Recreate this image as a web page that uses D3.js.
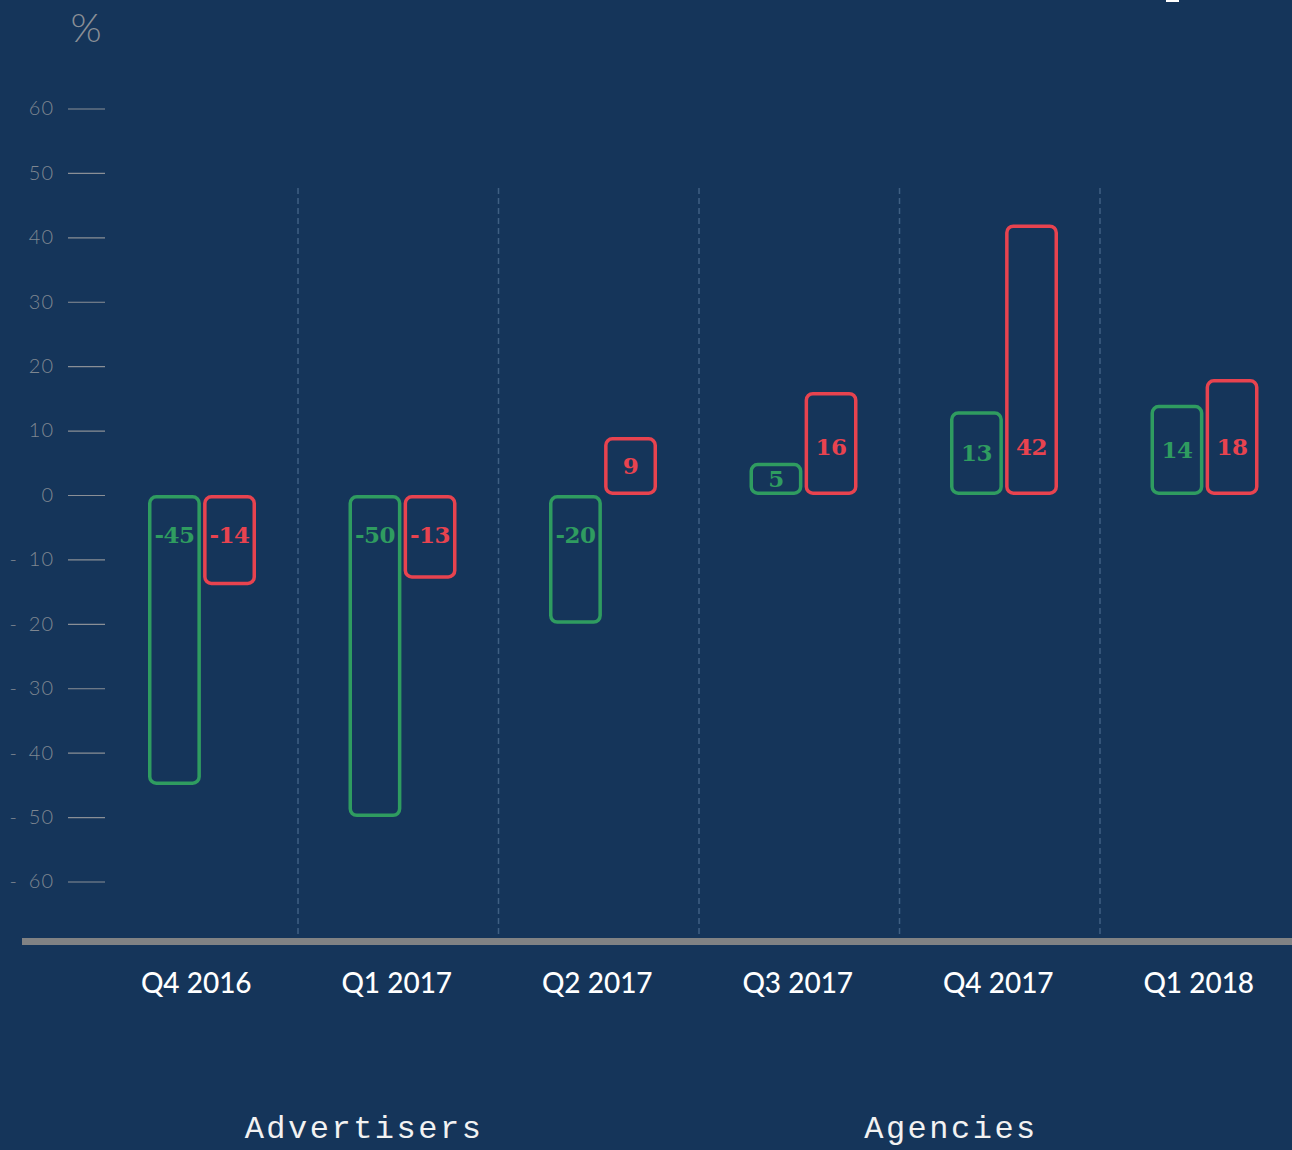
<!DOCTYPE html>
<html>
<head>
<meta charset="utf-8">
<script src="https://cdn.jsdelivr.net/npm/d3@7/dist/d3.min.js"></script>
<style>
  html, body { margin: 0; padding: 0; background: #15355a; }
  svg { display: block; }
</style>
</head>
<body>
<div id="chart"></div>
<script>
const quarters = ["Q4 2016", "Q1 2017", "Q2 2017", "Q3 2017", "Q4 2017", "Q1 2018"];
const advertisers = [-45, -50, -20, 5, 13, 14];
const agencies = [-14, -13, 9, 16, 42, 18];
const seriesNames = ["Advertisers", "Agencies"];
const yTicks = [60, 50, 40, 30, 20, 10, 0, -10, -20, -30, -40, -50, -60];

const W = 1292, H = 1150;
const BG = "#15355a", GREEN = "#2f9c60", RED = "#e8434f";

const svg = d3.select("#chart").append("svg").attr("width", W).attr("height", H);
svg.append("rect").attr("width", W).attr("height", H).attr("fill", BG);

const y = d3.scaleLinear().domain([-60, 60]).range([495 + 386.5, 495 - 386.5]);
const x = d3.scaleBand().domain(quarters).range([97.5, 1300.5]).paddingInner(0).paddingOuter(0);
const xs = d3.scaleBand().domain(seriesNames).range([50.5, 158.5]).paddingInner(0.04);

// dashed separators
svg.append("g").selectAll("line").data(quarters.slice(1)).join("line")
  .attr("x1", d => x(d)).attr("x2", d => x(d))
  .attr("y1", 188).attr("y2", 938)
  .attr("stroke", "#3f5f82").attr("stroke-width", 1.5)
  .attr("stroke-dasharray", "6,4");

// y axis
const yAxis = d3.axisLeft(y).tickValues(yTicks).tickSize(37).tickPadding(14)
  .tickFormat(d => d < 0 ? "-\u2002" + Math.abs(d) : String(d));
const gy = svg.append("g").attr("transform", "translate(105,0)").call(yAxis);
gy.select(".domain").remove();
gy.selectAll(".tick line").attr("stroke", "#8a8f96").attr("stroke-width", 1.2);
gy.selectAll(".tick text").attr("fill", "#7f8791")
  .style("font-family", "Lato, 'Open Sans', sans-serif").style("font-weight", 300)
  .style("font-size", "20px").style("letter-spacing", "1px");

svg.append("text").attr("x", 86).attr("y", 42).attr("text-anchor", "middle")
  .attr("fill", "#8a8f96").style("font-family", "Lato, sans-serif").style("font-weight", 300)
  .style("font-size", "40px").text("%");

// bars
const data = [];
quarters.forEach((q, i) => {
  data.push({ q, s: seriesNames[0], v: advertisers[i], c: GREEN });
  data.push({ q, s: seriesNames[1], v: agencies[i], c: RED });
});
const sw = 3.5;
const gb = svg.append("g");
gb.selectAll("rect").data(data).join("rect")
  .attr("x", d => x(d.q) + xs(d.s) + sw / 2)
  .attr("width", xs.bandwidth() - sw)
  .attr("y", d => y(Math.max(d.v, 0)) + sw / 2)
  .attr("height", d => Math.abs(y(d.v) - y(0)) - sw)
  .attr("rx", 6.5).attr("ry", 6.5)
  .attr("fill", "none").attr("stroke", d => d.c).attr("stroke-width", sw);

gb.selectAll("text").data(data).join("text")
  .attr("x", d => x(d.q) + xs(d.s) + xs.bandwidth() / 2)
  .attr("y", d => {
    const h = Math.abs(y(d.v) - y(0));
    return d.v >= 0 ? y(0) - Math.min(48, h / 2) : y(0) + Math.min(40, h / 2);
  })
  .attr("dy", "0.36em")
  .attr("text-anchor", "middle")
  .attr("fill", d => d.c)
  .style("font-family", "'DejaVu Serif', serif").style("font-weight", "bold")
  .style("font-size", "23px").style("letter-spacing", "-0.5px")
  .text(d => d.v);

// x axis baseline
svg.append("rect").attr("x", 22).attr("y", 938).attr("width", W - 22).attr("height", 7).attr("fill", "#808284");

// x labels
svg.append("g").selectAll("text").data(quarters).join("text")
  .attr("x", d => x(d) + x.bandwidth() / 2 - 1.5)
  .attr("y", 993)
  .attr("text-anchor", "middle")
  .attr("fill", "#ffffff")
  .style("font-family", "Lato, sans-serif").style("font-weight", 500)
  .style("font-size", "28px")
  .text(d => d);

// legend labels
const legendX = [364, 951];
svg.append("g").selectAll("text").data(seriesNames).join("text")
  .attr("x", (d, i) => legendX[i]).attr("y", 1138)
  .attr("text-anchor", "middle").attr("fill", "#f2f2f2")
  .style("font-family", "'Liberation Mono', monospace")
  .style("font-size", "32px").style("letter-spacing", "2.5px")
  .text(d => d);

// cut-off fragment at top right
svg.append("rect").attr("x", 1166).attr("y", 0).attr("width", 13).attr("height", 2).attr("fill", "#ffffff");
</script>
</body>
</html>
